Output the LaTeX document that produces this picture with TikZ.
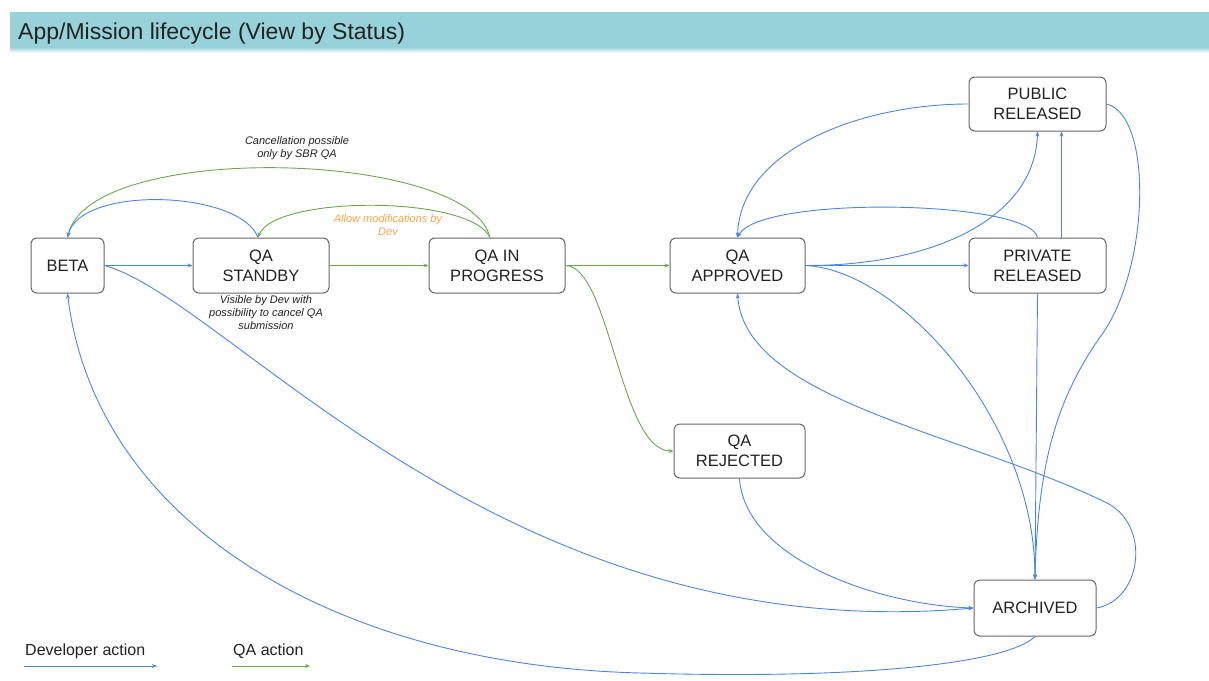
\documentclass[tikz,border=0pt]{standalone}
\usepackage{fontspec}
\setmainfont{Liberation Sans}
\usetikzlibrary{arrows.meta}
\definecolor{dev}{HTML}{4A86E8}
\definecolor{qa}{HTML}{6AA84F}
\definecolor{notecol}{HTML}{F6A54A}
\definecolor{hdr}{HTML}{97D1D9}
\definecolor{boxline}{HTML}{666666}
\definecolor{txt}{HTML}{222222}
\begin{document}
\begin{tikzpicture}[x=1pt,y=-1pt,
  state/.style={draw=boxline, line width=1pt, rounded corners=6pt, fill=white, align=center,
    text=txt, font=\fontsize{16.5}{20}\selectfont, inner sep=0pt},
  devarrow/.style={draw=dev, line width=0.9pt, -{Stealth[length=5pt,width=4pt]}},
  qaarrow/.style={draw=qa, line width=0.9pt, -{Stealth[length=5pt,width=4pt]}},
  notetext/.style={font=\fontsize{11}{13}\selectfont\itshape, align=center, text=txt, inner sep=0pt},
  legendtext/.style={font=\fontsize{16}{19}\selectfont, text=txt, anchor=base west, inner sep=0pt}
]
\useasboundingbox (0,0) rectangle (1209,680);
\fill[white] (0,0) rectangle (1209,680);
% header
\fill[hdr] (10,12) rectangle (1209,47);
\shade[top color=hdr, bottom color=white] (10,47) rectangle (1209,53);
\node[anchor=base west, font=\fontsize{23}{27}\selectfont, text=txt, inner sep=0pt] (title) at (18,39) {App/Mission lifecycle (View by Status)};

% states
\node[state, minimum width=73pt, minimum height=55pt] (beta) at (67.5,265.5) {BETA};
\node[state, minimum width=136pt, minimum height=55pt] (standby) at (261,265.5) {QA\\STANDBY};
\node[state, minimum width=136pt, minimum height=55pt] (inprog) at (497,265.5) {QA IN\\PROGRESS};
\node[state, minimum width=135pt, minimum height=55pt] (approved) at (737.5,265.5) {QA\\APPROVED};
\node[state, minimum width=137pt, minimum height=55pt] (private) at (1037.5,265.5) {PRIVATE\\RELEASED};
\node[state, minimum width=137pt, minimum height=54pt] (public) at (1037.5,104) {PUBLIC\\RELEASED};
\node[state, minimum width=131pt, minimum height=54pt] (rejected) at (739.5,451) {QA\\REJECTED};
\node[state, minimum width=122pt, minimum height=56pt] (archived) at (1035,608) {ARCHIVED};

% notes
\node[notetext] (cancelnote) at (297,148) {Cancellation possible\\only by SBR QA};
\node[notetext, text=notecol] (allownote) at (388,225) {Allow modifications by\\Dev};
\node[notetext] (visiblenote) at (266,313) {Visible by Dev with\\possibility to cancel QA\\submission};

% QA (green) connectors
\draw[qaarrow] (standby.east) -- (inprog.west);
\draw[qaarrow] (inprog.east) -- (approved.west);
\draw[qaarrow] (inprog.east) .. controls (610,266) and (620,451) .. (rejected.west);
\draw[qaarrow] ([xshift=-7pt]inprog.north) .. controls (470,150) and (90,140) .. (beta.north);
\draw[qaarrow] ([xshift=-7pt]inprog.north) .. controls (470,195) and (275,195) .. ([xshift=-3pt]standby.north);

% Developer (blue) connectors
\draw[devarrow] (beta.east) -- (standby.west);
\draw[devarrow] ([xshift=-3pt]standby.north) .. controls (240,190) and (80,185) .. (beta.north);
\draw[devarrow] (beta.east) .. controls (230,300) and (500,650) .. (archived.west);
\coordinate (bottomturn) at (640,673);
\draw[devarrow] (archived.south) .. controls (1010,662) and (870,680) .. (bottomturn)
  .. controls (330,665) and (95,520) .. (beta.south);
\draw[devarrow] (approved.east) -- (private.west);
\draw[devarrow] (approved.east) .. controls (930,266) and (1035,220) .. (public.south);
\draw[devarrow] (public.west) .. controls (860,104) and (740,150) .. (approved.north);
\draw[devarrow] (private.north) .. controls (1030,200) and (760,195) .. (approved.north);
\draw[devarrow] ([xshift=24pt]private.north) -- ([xshift=24pt]public.south);
\draw[devarrow] (private.south) -- (archived.north);
\draw[devarrow] (approved.east) .. controls (900,270) and (1035,420) .. (archived.north);
\coordinate (rightturn) at (1105,330);
\draw[devarrow] (public.east) .. controls (1152,115) and (1150,260) .. (rightturn)
  .. controls (1062,390) and (1038,450) .. (archived.north);
\coordinate (loopturn) at (1105,502);
\draw[devarrow] (archived.east) .. controls (1142,600) and (1152,524) .. (loopturn)
  .. controls (960,432) and (745,400) .. (approved.south);
\draw[devarrow] (rejected.south) .. controls (745,560) and (880,605) .. (archived.west);

% legend
\node[legendtext] (devlegend) at (25,655) {Developer action};
\node[legendtext] (qalegend) at (233,655) {QA action};
\coordinate (devstart) at (24,666);
\coordinate (devend) at (157,666);
\coordinate (qastart) at (232,666);
\coordinate (qaend) at (310,666);
\draw[devarrow] (devstart) -- (devend);
\draw[qaarrow] (qastart) -- (qaend);
\end{tikzpicture}
\end{document}
